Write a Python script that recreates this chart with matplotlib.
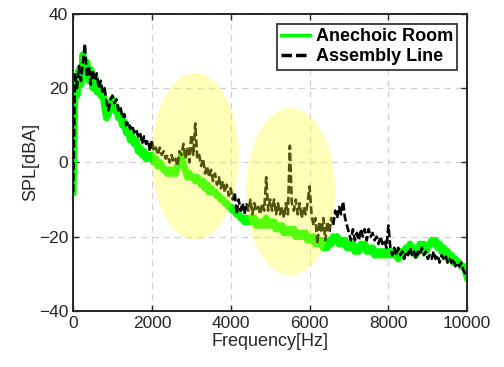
import numpy as np
import matplotlib.pyplot as plt
from matplotlib.patches import Ellipse

plt.rcParams['font.family'] = ['Liberation Sans', 'DejaVu Sans']

# frequency grid (Hz), 50 Hz steps
freq = np.arange(0, 10001, 50)

# Assembly Line spectrum, dBA
assembly = [
    -8, 24, 20, 26, 22, 27, 32, 23, 26, 21, 25, 22, 24, 20, 22, 19, 20, 16, 14, 17,
    18, 16, 17, 14, 15, 12, 13, 10, 11, 9, 10, 8, 9, 7, 8, 5, 7, 5, 6, 3,
    6, 3, 4, 2, 4, 2, 3, 1, 2, 0, 2, 0, 1, -1, 3, 2, 5, 1, 4, 0,
    7.5, 2, 10.5, 1, 2, -1, 1, -3, -1, -4, -2, -5, -3, -6, -4, -7, -5, -8, -6, -9,
    -7, -10, -8, -14, -10, -13, -11, -14, -11, -13, -10, -14, -11, -13, -12, -14, -11, -13, -4, -13,
    -10, -13, -10, -14, -11, -14, -12, -15, -11, -14, 4.5, -11, -13, -10, -14, -11, -15, -12, -14, -11,
    -6.5, -14, -17, -15, -22, -16, -19, -15, -21, -16, -19, -15, -17, -13, -15, -12, -14, -10.5, -15, -17,
    -19, -21, -18, -21, -19, -21, -18, -20, -18, -21, -18, -20, -19, -21, -20, -22, -20, -22, -21, -23,
    -17, -23, -25, -23, -25, -23, -25, -24, -26, -24, -25, -23, -25, -24, -26, -24, -25, -23, -25, -24,
    -26, -25, -26, -24, -26, -25, -27, -25, -26, -25, -27, -26, -27, -26, -28, -27, -28, -27, -29, -30,
    -31,
]

# Anechoic Room spectrum, dBA
anechoic = [
    -8, 22, 18, 25, 21, 29, 24, 27, 22, 25, 20, 23, 19, 21, 18, 19, 15, 12, 13, 16,
    17, 14, 15, 12, 13, 10, 11, 8, 9, 6, 7, 5, 6, 3, 4, 2, 3, 1, 2, 1,
    2, 0, 1, -1, 0, -1, -2, -2, -3, -2, -3, -2, -3, -1, 0, 2, -1, -2, -4, -3,
    -4, -4, -5, -4, -5, -6, -5, -7, -6, -8, -7, -8, -8, -9, -9, -10, -10, -11, -11, -12,
    -12, -13, -13, -14, -14, -15, -15, -16, -15, -16, -15, -16, -15, -17, -16, -17, -16, -17, -15, -17,
    -16, -17, -16, -18, -17, -18, -17, -19, -18, -19, -18, -19, -18, -20, -19, -20, -19, -20, -19, -21,
    -20, -21, -20, -22, -21, -22, -21, -23, -22, -23, -21, -22, -20, -21, -20, -22, -21, -22, -21, -23,
    -22, -23, -22, -24, -23, -24, -22, -23, -22, -24, -23, -24, -23, -25, -24, -25, -24, -25, -24, -25,
    -24, -25, -24, -25, -25, -26, -24, -25, -24, -23, -24, -22, -24, -23, -25, -24, -22, -23, -22, -24,
    -23, -22, -21, -22, -21, -23, -22, -24, -23, -25, -24, -26, -25, -27, -26, -27, -27, -28, -28, -29,
    -31,
]

xticks = [0, 2000, 4000, 6000, 8000, 10000]
yticks = [-40, -20, 0, 20, 40]

fig = plt.figure(figsize=(5.04, 3.67), dpi=100)
ax = fig.add_axes([0.145, 0.153, 0.782, 0.809])

ax.plot(freq, anechoic, color='#00ff00', lw=5, label='Anechoic Room', zorder=2)
ax.plot(freq, assembly, color='black', lw=1.9, ls='--', dashes=(3, 1.2), label='Assembly Line', zorder=3)

# highlighted regions
for cx, cy, w, h in [(3100, 1.6, 2200, 45), (5520, -7.9, 2260, 45)]:
    ax.add_patch(Ellipse((cx, cy), w, h, facecolor=(1, 1, 0.15), alpha=0.33,
                         edgecolor='none', zorder=4))

ax.set_xlim(0, 10000)
ax.set_ylim(-40, 40)
ax.set_xticks(xticks)
ax.set_yticks(yticks)
ax.grid(True, ls=(0, (5, 4)), color='#d0d0d0', lw=0.9)
ax.set_axisbelow(True)
ax.tick_params(direction='in', top=True, right=True, labelsize=12.5, length=4, width=1, colors='#262626')
for s in ax.spines.values():
    s.set_linewidth(1.4)
    s.set_color('#262626')

ax.set_xlabel('Frequency[Hz]', fontsize=13, color='#262626', labelpad=2)
ax.set_ylabel('SPL[dBA]', fontsize=13, color='#262626', labelpad=0)

leg = ax.legend(loc='upper right', prop={'weight': 'bold', 'size': 13},
                fancybox=False, framealpha=1, edgecolor='#262626', handlelength=1.6,
                borderaxespad=0.55, labelspacing=0.15, handletextpad=0.3, borderpad=0.25)
leg.get_frame().set_linewidth(1.2)
for h in leg.get_lines():
    h.set_linewidth(2.5)
leg.set_zorder(10)

fig.savefig('out.png', dpi=100)
